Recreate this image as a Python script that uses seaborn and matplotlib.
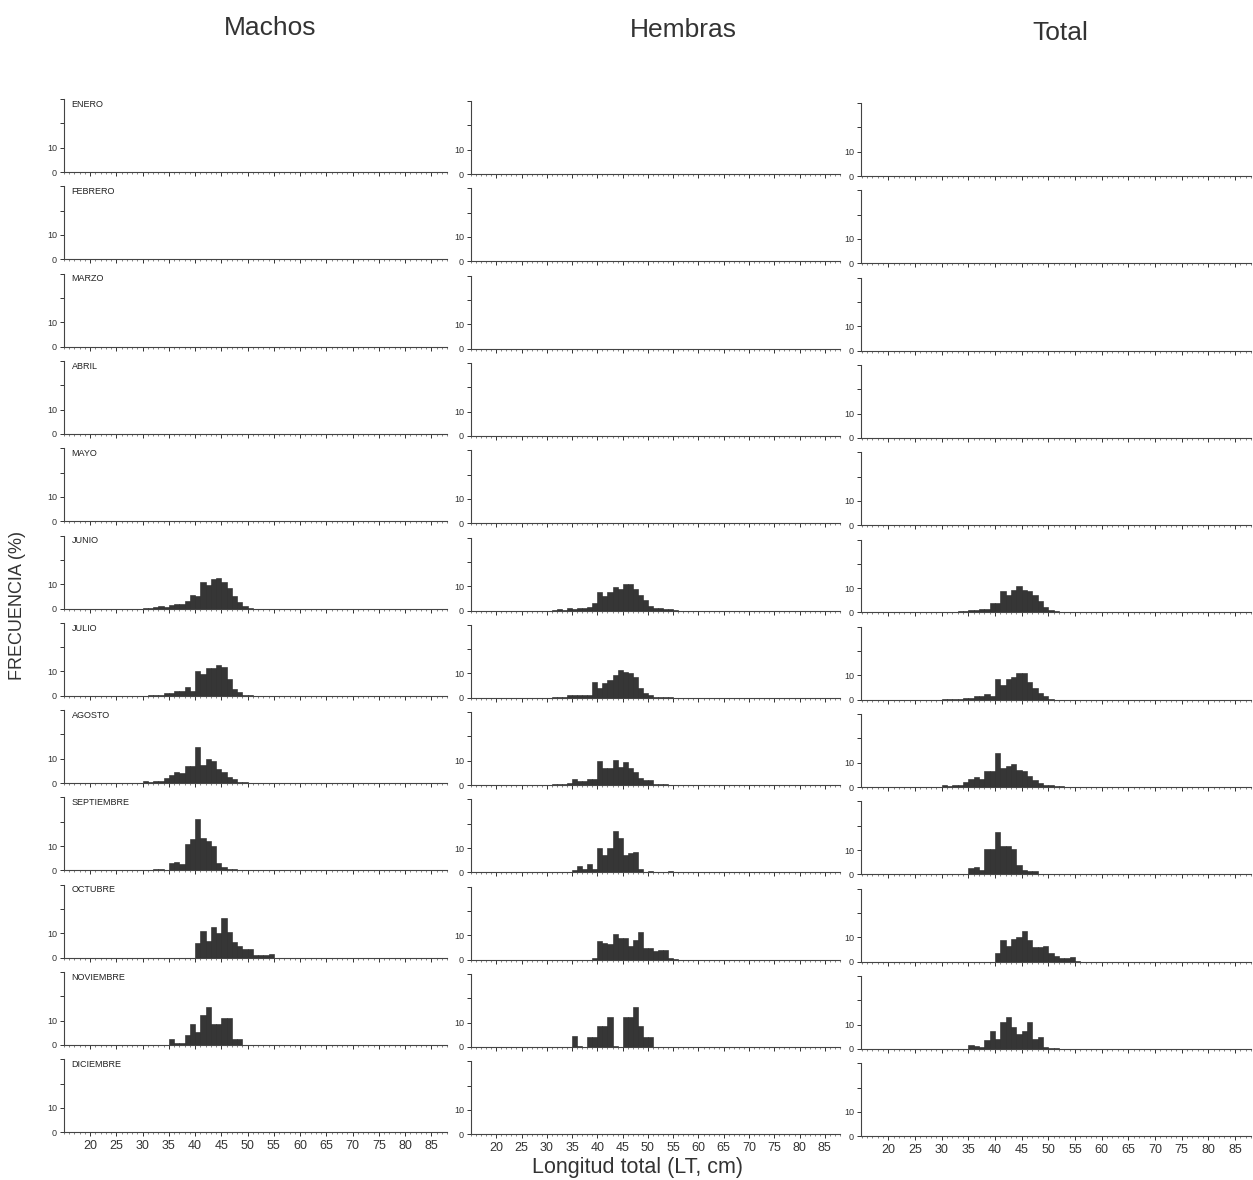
import numpy as np
import pandas as pd
import matplotlib
matplotlib.use("Agg")
import matplotlib.pyplot as plt
import seaborn as sns

# Month rows and sex columns
months = ["ENERO", "FEBRERO", "MARZO", "ABRIL", "MAYO", "JUNIO", "JULIO",
          "AGOSTO", "SEPTIEMBRE", "OCTUBRE", "NOVIEMBRE", "DICIEMBRE"]
columns = ["Machos", "Hembras", "Total"]
x_ticks = [20, 25, 30, 35, 40, 45, 50, 55, 60, 65, 70, 75, 80, 85]

# Frequencies (%) per 1 cm length class, first class given by *_start
machos_junio_start = 30
machos_junio = [0.2, 0.3, 0.5, 1, 0.7, 1.5, 2, 2, 3, 5.5, 5, 11, 9.5, 12, 12.5,
                11, 8.5, 5, 2.5, 1, 0.3]
machos_julio_start = 31
machos_julio = [0.2, 0.3, 0.5, 1, 1, 2, 2, 3.5, 2, 10, 9, 11.5, 11.5, 12.5, 12,
                7, 3, 1.5, 0.5, 0.3]
machos_agosto_start = 30
machos_agosto = [0.8, 0.3, 1, 1, 2, 3.5, 4.5, 4, 7, 7, 15, 7.5, 10, 9, 6, 4.5,
                 2.5, 1.5, 0.5, 0.3]
machos_septiembre_start = 32
machos_septiembre = [0.4, 0.4, 0, 3, 3.5, 2.5, 11, 13, 21, 13.5, 12, 10, 3,
                     1.5, 0.7, 0.7]
machos_octubre_start = 40
machos_octubre = [6, 11, 7, 12.5, 10, 16.5, 10.5, 6.5, 5, 3.5, 3.5, 1, 1, 1, 1.5]
machos_noviembre_start = 35
machos_noviembre = [2.5, 1, 1, 4, 8.5, 5.5, 12.5, 15.5, 8.5, 8.5, 11, 11, 2.5, 2.5]

hembras_junio_start = 31
hembras_junio = [0.3, 0.7, 0.4, 1, 0.8, 1, 1, 1.5, 3, 7.5, 6, 7.5, 9.5, 9, 11,
                 11, 9, 6.5, 4.5, 2, 1, 1, 0.5, 0.5, 0.3]
hembras_julio_start = 31
hembras_julio = [0.3, 0.5, 0.5, 1, 1, 1, 1, 1, 6.5, 4, 6, 7.5, 9.5, 11.5, 10.5,
                 10, 8.5, 4, 2, 1, 0.5, 0.4, 0.3, 0.2]
hembras_agosto_start = 30
hembras_agosto = [0.2, 0.3, 0.3, 0.3, 1, 2.5, 1.5, 1.5, 2.5, 2.5, 10, 7, 7,
                  10.5, 7.5, 9.5, 7, 5.5, 3, 2, 2, 0.5, 0.5, 0.3, 0.2]
hembras_septiembre_start = 35
hembras_septiembre = [1, 2.5, 1.5, 3.5, 1.5, 10, 7, 10, 17, 14, 7, 8, 8.5, 1.5,
                      0, 0.7, 0, 0, 0, 0.7]
hembras_octubre_start = 39
hembras_octubre = [0.8, 7.5, 7, 6.5, 10.5, 9, 9, 5.5, 8, 11.5, 5, 5, 3.5, 4, 4,
                   0.5, 0.3]
hembras_noviembre_start = 35
hembras_noviembre = [4.5, 0.3, 0, 4, 4, 8.5, 8.5, 12.5, 0.3, 0, 12.5, 12.5,
                     16.5, 8.5, 4, 4]

total_junio_start = 31
total_junio = [0.2, 0.3, 0.7, 0.5, 1, 1, 1.5, 1.5, 4, 4, 9, 7.3, 9.3, 10.7, 9.3,
               9, 7, 4.7, 2.3, 1, 0.5, 0.3, 0.2]
total_julio_start = 30
total_julio = [0.2, 0.3, 0.3, 0.5, 0.8, 0.8, 1.5, 1.5, 2.5, 1.5, 8.5, 6, 8.5,
               9.5, 11, 11, 7.5, 5, 3, 1.5, 0.5]
total_agosto_start = 30
total_agosto = [0.7, 0.5, 1, 1, 2, 3.5, 4, 3.5, 6.5, 6.5, 14, 8, 8.5, 9.5, 7,
                6.5, 4.5, 3, 1.5, 0.7, 0.7, 0.3, 0.3, 0.2]
total_septiembre_start = 32
total_septiembre = [0.3, 0.3, 0, 2.5, 3, 2, 10.5, 10.5, 17.5, 11.5, 11.5, 10.5,
                    4, 2, 1.5, 1.5, 0.3]
total_octubre_start = 40
total_octubre = [3.5, 9, 6.5, 9.5, 10, 12.5, 9, 6, 6, 6.5, 3.5, 2.5, 1.5, 1.5,
                 2, 0.3]
total_noviembre_start = 35
total_noviembre = [1.8, 1.3, 0.9, 3.6, 7.2, 4.3, 11.2, 13.3, 8.9, 6.3, 7.6, 11,
                   4.3, 5, 1, 0.3, 0.3]

panels = {
    ("Machos", "JUNIO"): (machos_junio_start, machos_junio),
    ("Machos", "JULIO"): (machos_julio_start, machos_julio),
    ("Machos", "AGOSTO"): (machos_agosto_start, machos_agosto),
    ("Machos", "SEPTIEMBRE"): (machos_septiembre_start, machos_septiembre),
    ("Machos", "OCTUBRE"): (machos_octubre_start, machos_octubre),
    ("Machos", "NOVIEMBRE"): (machos_noviembre_start, machos_noviembre),
    ("Hembras", "JUNIO"): (hembras_junio_start, hembras_junio),
    ("Hembras", "JULIO"): (hembras_julio_start, hembras_julio),
    ("Hembras", "AGOSTO"): (hembras_agosto_start, hembras_agosto),
    ("Hembras", "SEPTIEMBRE"): (hembras_septiembre_start, hembras_septiembre),
    ("Hembras", "OCTUBRE"): (hembras_octubre_start, hembras_octubre),
    ("Hembras", "NOVIEMBRE"): (hembras_noviembre_start, hembras_noviembre),
    ("Total", "JUNIO"): (total_junio_start, total_junio),
    ("Total", "JULIO"): (total_julio_start, total_julio),
    ("Total", "AGOSTO"): (total_agosto_start, total_agosto),
    ("Total", "SEPTIEMBRE"): (total_septiembre_start, total_septiembre),
    ("Total", "OCTUBRE"): (total_octubre_start, total_octubre),
    ("Total", "NOVIEMBRE"): (total_noviembre_start, total_noviembre),
}

sns.set_theme(style="ticks")
plt.rcParams["font.family"] = ["Liberation Sans", "DejaVu Sans"]

W, H = 1253, 1180
fig = plt.figure(figsize=(W / 100, H / 100), dpi=100)

# column geometry in pixels: left spine, width, x-limits, vertical shift
col_geom = [
    (64, 383, (16.0, 88.0), 0),
    (471, 369, (16.5, 85.5), 2),
    (861, 390, (14.9, 86.4), 4),
]
row_zero0 = 172
row_pitch = 87.3
ax_h = 73

for c, col in enumerate(columns):
    x0, w, xlim, dy = col_geom[c]
    for r, month in enumerate(months):
        y_zero = row_zero0 + row_pitch * r + dy
        ax = fig.add_axes([x0 / W, 1 - y_zero / H, w / W, ax_h / H])
        if (col, month) in panels:
            start, vals = panels[(col, month)]
            df = pd.DataFrame({"length": np.arange(start, start + len(vals)) + 0.5,
                               "freq": vals})
            sns.histplot(data=df, x="length", weights="freq",
                         binwidth=1, binrange=(start, start + len(vals)),
                         ax=ax, color="#363636", edgecolor="#262626",
                         linewidth=0.4, alpha=1)
        ax.set_xlim(*xlim)
        ax.set_ylim(0, 30)
        ax.set_xlabel("")
        ax.set_ylabel("")
        ax.set_facecolor("none")
        sns.despine(ax=ax)
        for s in ["left", "bottom"]:
            ax.spines[s].set_linewidth(0.8)
            ax.spines[s].set_color("#444444")
        ax.set_yticks([0, 10, 20, 30])
        ax.set_yticklabels(["0", "10", "", ""])
        ax.tick_params(axis="y", length=3, width=0.7, labelsize=6.5,
                       pad=2, colors="#333333")
        ax.set_xticks(x_ticks)
        ax.set_xticks(np.arange(15, 89, 1), minor=True)
        ax.tick_params(axis="x", which="major", length=3, width=0.7,
                       labelsize=9, colors="#333333", pad=2.5)
        ax.tick_params(axis="x", which="minor", length=1.5, width=0.5,
                       colors="#555555")
        if r != len(months) - 1:
            ax.set_xticklabels([])
        if c == 0:
            ax.text(0.02, 0.99, month, transform=ax.transAxes, fontsize=6.5,
                    va="top", ha="left", color="#222222")

# column titles and axis titles
title_pos = [(270, 28), (683, 30), (1060, 33)]
for col, (tx, ty) in zip(columns, title_pos):
    fig.text(tx / W, 1 - ty / H, col, fontsize=19, ha="center", va="center",
             color="#333333")
fig.text(18 / W, 1 - 605 / H, "FRECUENCIA (%)", rotation=90, fontsize=13,
         ha="center", va="center", color="#333333")
fig.text(637 / W, 1 - 1168 / H, "Longitud total (LT, cm)", fontsize=15.5,
         ha="center", va="center", color="#333333")

fig.savefig("out.png", dpi=100)
